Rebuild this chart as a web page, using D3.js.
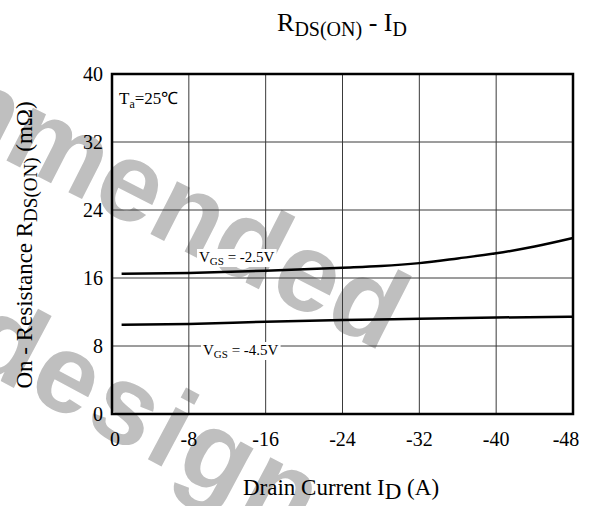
<!DOCTYPE html>
<html>
<head>
<meta charset="utf-8">
<script src="https://cdn.jsdelivr.net/npm/d3@7"></script>
<style>
  body { margin: 0; background: #fff; }
  svg { display: block; }
  text { font-family: "Liberation Serif", "Times New Roman", serif; fill: #000; }
  text.wm { font-family: "Liberation Sans", Arial, sans-serif; font-weight: bold; fill: #bfbfbf; }
</style>
</head>
<body>
<div id="chartBox"></div>
<script>
// drain current (A) and on-resistance (mOhm)
var id25 = [-1, -8, -16, -24, -28, -32, -36, -40, -44, -48];
var r25 = [16.5, 16.6, 16.85, 17.2, 17.4, 17.75, 18.3, 18.9, 19.7, 20.7];
var id45 = [-1, -8, -16, -24, -32, -40, -48];
var r45 = [10.5, 10.6, 10.85, 11.05, 11.2, 11.35, 11.45];

var xTicks = [0, -8, -16, -24, -32, -40, -48];
var yTicks = [0, 8, 16, 24, 32, 40];

var w = 595;
var h = 506;
var margin = { left: 112, right: 22, top: 74, bottom: 92 };

var svg = d3.select("#chartBox")
  .append("svg")
  .attr("width", w)
  .attr("height", h);

var x = d3.scaleLinear().domain([0, -48]).range([margin.left, w - margin.right]);
var y = d3.scaleLinear().domain([0, 40]).range([h - margin.bottom, margin.top]);

// watermark
svg.append("text")
  .attr("class", "wm")
  .attr("transform", "translate(382,352) rotate(27)")
  .attr("text-anchor", "end")
  .style("font-size", "112px")
  .text("mmended");
svg.append("text")
  .attr("class", "wm")
  .attr("transform", "translate(300,540) rotate(28)")
  .attr("text-anchor", "end")
  .style("font-size", "112px")
  .style("letter-spacing", "4px")
  .text("design");

// grid
var grid = svg.append("g").attr("stroke", "#3a3a3a").attr("stroke-width", 1);
grid.selectAll("line.v")
  .data(xTicks.slice(1, -1))
  .enter()
    .append("line")
    .attr("x1", function(d) { return x(d); })
    .attr("x2", function(d) { return x(d); })
    .attr("y1", y(0))
    .attr("y2", y(40));
grid.selectAll("line.h")
  .data(yTicks.slice(1, -1))
  .enter()
    .append("line")
    .attr("y1", function(d) { return y(d); })
    .attr("y2", function(d) { return y(d); })
    .attr("x1", x(0))
    .attr("x2", x(-48));

// curves
var line = d3.line()
  .x(function(d) { return x(d[0]); })
  .y(function(d) { return y(d[1]); })
  .curve(d3.curveMonotoneX);

svg.append("path")
  .datum(d3.zip(id25, r25))
  .attr("d", line)
  .attr("fill", "none")
  .attr("stroke", "#000")
  .attr("stroke-width", 2.5);

svg.append("path")
  .datum(d3.zip(id45, r45))
  .attr("d", line)
  .attr("fill", "none")
  .attr("stroke", "#000")
  .attr("stroke-width", 2.5);

// frame
svg.append("rect")
  .attr("x", x(0))
  .attr("y", y(40))
  .attr("width", x(-48) - x(0))
  .attr("height", y(0) - y(40))
  .attr("fill", "none")
  .attr("stroke", "#000")
  .attr("stroke-width", 2.5);

// curve labels with white backing
function vgsLabel(px, py, val) {
  var g = svg.append("g");
  var t = g.append("text")
    .attr("x", px)
    .attr("y", py)
    .style("font-size", "15px");
  t.append("tspan").text("V");
  t.append("tspan").attr("dy", 3).style("font-size", "11px").text("GS");
  t.append("tspan").attr("dy", -3).text(" = " + val);
  var b = t.node().getBBox();
  g.insert("rect", "text")
    .attr("x", b.x - 2)
    .attr("y", b.y)
    .attr("width", b.width + 4)
    .attr("height", b.height)
    .attr("fill", "#fff");
}
vgsLabel(199, 262, "-2.5V");
vgsLabel(203, 355, "-4.5V");

// Ta label
var ta = svg.append("text")
  .attr("x", x(0) + 7)
  .attr("y", 104)
  .style("font-size", "17px");
ta.append("tspan").text("T");
ta.append("tspan").attr("dy", 4).style("font-size", "12px").text("a");
ta.append("tspan").attr("dy", -4).text("=25\u2103");

// tick labels
svg.append("g").selectAll("text")
  .data(yTicks)
  .enter()
    .append("text")
    .attr("x", margin.left - 9)
    .attr("y", function(d) { return y(d) + 7; })
    .attr("text-anchor", "end")
    .style("font-size", "20px")
    .text(function(d) { return d; });

svg.append("g").selectAll("text")
  .data(xTicks)
  .enter()
    .append("text")
    .attr("x", function(d, i) { return i == 0 ? x(d) + 3 : i == xTicks.length - 1 ? x(d) - 7 : x(d); })
    .attr("y", y(0) + 32)
    .attr("text-anchor", "middle")
    .style("font-size", "20px")
    .text(function(d) { return d; });

// title
var title = svg.append("text")
  .attr("x", 342)
  .attr("y", 31)
  .attr("text-anchor", "middle")
  .style("font-size", "26px");
title.append("tspan").text("R");
title.append("tspan").attr("dy", 5).style("font-size", "20px").text("DS(ON)");
title.append("tspan").attr("dy", -5).text(" - I");
title.append("tspan").attr("dy", 5).style("font-size", "20px").text("D");

// axis titles
var xt = svg.append("text")
  .attr("x", 341)
  .attr("y", 495)
  .attr("text-anchor", "middle")
  .style("font-size", "23px");
xt.append("tspan").text("Drain Current I");
xt.append("tspan").attr("dy", 4).style("font-size", "23px").text("D");
xt.append("tspan").attr("dy", -4).text("  (A)");

var yt = svg.append("text")
  .attr("transform", "translate(32,245) rotate(-90)")
  .attr("text-anchor", "middle")
  .style("font-size", "23px");
yt.append("tspan").text("On - Resistance R");
yt.append("tspan").attr("dy", 5).style("font-size", "19px").text("DS(ON)");
yt.append("tspan").attr("dy", -5).text("  (m\u03a9)");
</script>
</body>
</html>
